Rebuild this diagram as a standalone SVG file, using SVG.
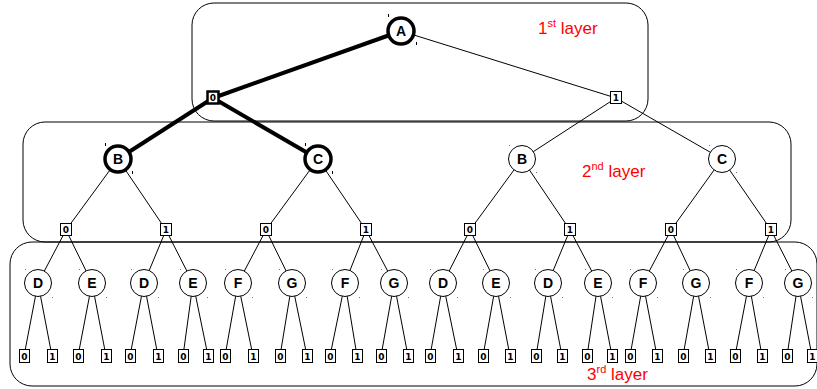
<svg xmlns="http://www.w3.org/2000/svg" width="817" height="389" viewBox="0 0 817 389">
  <style>
    .layer { fill: none; stroke: #000; stroke-width: 1; }
    .edge { stroke: #000; stroke-width: 1; fill: none; }
    .edge.bold { stroke-width: 4; }
    .node circle { fill: #fff; stroke: #000; stroke-width: 1; }
    .node.bold circle { stroke-width: 3.5; }
    .node text { font-family: "Liberation Sans", Arial, sans-serif; font-weight: bold; font-size: 14px; text-anchor: middle; }
    .bit rect { fill: #fff; stroke: #000; stroke-width: 1; }
    .bit.bold rect { stroke-width: 2.5; }
    .bit text { font-family: "DejaVu Sans", sans-serif; font-weight: bold; font-size: 9px; text-anchor: middle; }
    .lbl { font-family: "Liberation Sans", Arial, sans-serif; font-size: 17px; fill: #ff0000; }
    .sup { font-size: 11px; }
    .tick { fill: #777; }
    .tick.bold { fill: #000; }
  </style>

  <!-- layer frames -->
  <g id="layers">
    <rect class="layer" x="192" y="3" width="456" height="118" rx="22"/>
    <rect class="layer" x="23" y="122" width="768" height="120" rx="22"/>
    <rect class="layer" x="10" y="242" width="807" height="144" rx="22"/>
  </g>

  <!-- connectors -->
  <g id="edges">
    <!-- A to first bit boxes -->
    <line class="edge bold" x1="401" y1="31" x2="213" y2="98"/>
    <line class="edge" x1="401" y1="31" x2="616" y2="98"/>
    <!-- bit boxes to second layer -->
    <line class="edge bold" x1="213" y1="98" x2="118" y2="159"/>
    <line class="edge bold" x1="213" y1="98" x2="318" y2="159"/>
    <line class="edge" x1="616" y1="98" x2="522" y2="159"/>
    <line class="edge" x1="616" y1="98" x2="722" y2="159"/>
    <!-- second layer to bit boxes -->
    <line class="edge" x1="118" y1="159" x2="66" y2="230"/>
    <line class="edge" x1="118" y1="159" x2="166" y2="230"/>
    <line class="edge" x1="318" y1="159" x2="266" y2="230"/>
    <line class="edge" x1="318" y1="159" x2="366" y2="230"/>
    <line class="edge" x1="522" y1="159" x2="470" y2="230"/>
    <line class="edge" x1="522" y1="159" x2="570" y2="230"/>
    <line class="edge" x1="722" y1="159" x2="671" y2="230"/>
    <line class="edge" x1="722" y1="159" x2="771" y2="230"/>
    <!-- bit boxes to third layer -->
    <line class="edge" x1="66" y1="230" x2="38" y2="283"/>
    <line class="edge" x1="66" y1="230" x2="92" y2="283"/>
    <line class="edge" x1="166" y1="230" x2="144" y2="283"/>
    <line class="edge" x1="166" y1="230" x2="193" y2="283"/>
    <line class="edge" x1="266" y1="230" x2="238" y2="283"/>
    <line class="edge" x1="266" y1="230" x2="292" y2="283"/>
    <line class="edge" x1="366" y1="230" x2="345" y2="283"/>
    <line class="edge" x1="366" y1="230" x2="394" y2="283"/>
    <line class="edge" x1="470" y1="230" x2="443" y2="283"/>
    <line class="edge" x1="470" y1="230" x2="496" y2="283"/>
    <line class="edge" x1="570" y1="230" x2="548" y2="283"/>
    <line class="edge" x1="570" y1="230" x2="598" y2="283"/>
    <line class="edge" x1="671" y1="230" x2="643" y2="283"/>
    <line class="edge" x1="671" y1="230" x2="696" y2="283"/>
    <line class="edge" x1="771" y1="230" x2="749" y2="283"/>
    <line class="edge" x1="771" y1="230" x2="798" y2="283"/>
    <!-- third layer to leaf bits -->
    <path class="edge" d="M38 283 L24 356 M38 283 L52 356
      M92 283 L78 356 M92 283 L106 356
      M144 283 L130 356 M144 283 L158 356
      M193 283 L183 356 M193 283 L208 356
      M238 283 L225 356 M238 283 L253 356
      M292 283 L280 356 M292 283 L307 356
      M345 283 L330 356 M345 283 L357 356
      M394 283 L381 356 M394 283 L408 356
      M443 283 L430 356 M443 283 L458 356
      M496 283 L483 356 M496 283 L510 356
      M548 283 L536 356 M548 283 L562 356
      M598 283 L587 356 M598 283 L612 356
      M643 283 L630 356 M643 283 L657 356
      M696 283 L683 356 M696 283 L710 356
      M749 283 L735 356 M749 283 L762 356
      M798 283 L787 356 M798 283 L812 356"/>
  </g>

  <!-- first layer -->
  <g id="node-A" class="node bold"><circle cx="401" cy="31" r="13"/><text x="401" y="36">A</text></g>
  <g id="bit-A0" class="bit bold"><rect x="207.5" y="91.5" width="11" height="12"/><text x="213" y="101">0</text></g>
  <g id="bit-A1" class="bit"><rect x="610.5" y="91.5" width="11" height="12"/><text x="616" y="101">1</text></g>

  <!-- second layer -->
  <g id="node-B1" class="node bold"><circle cx="118" cy="159" r="13"/><text x="118" y="164">B</text></g>
  <g id="node-C1" class="node bold"><circle cx="318" cy="159" r="13"/><text x="318" y="164">C</text></g>
  <g id="node-B2" class="node"><circle cx="522" cy="159" r="13.5"/><text x="522" y="164">B</text></g>
  <g id="node-C2" class="node"><circle cx="722" cy="159" r="13.5"/><text x="722" y="164">C</text></g>

  <g id="bits-2" class="bit">
    <g id="bit-B1-0" class="bit"><rect x="60.5" y="223.5" width="11" height="12"/><text x="66" y="233">0</text></g>
    <g id="bit-B1-1" class="bit"><rect x="160.5" y="223.5" width="11" height="12"/><text x="166" y="233">1</text></g>
    <g id="bit-C1-0" class="bit"><rect x="260.5" y="223.5" width="11" height="12"/><text x="266" y="233">0</text></g>
    <g id="bit-C1-1" class="bit"><rect x="360.5" y="223.5" width="11" height="12"/><text x="366" y="233">1</text></g>
    <g id="bit-B2-0" class="bit"><rect x="464.5" y="223.5" width="11" height="12"/><text x="470" y="233">0</text></g>
    <g id="bit-B2-1" class="bit"><rect x="564.5" y="223.5" width="11" height="12"/><text x="570" y="233">1</text></g>
    <g id="bit-C2-0" class="bit"><rect x="665.5" y="223.5" width="11" height="12"/><text x="671" y="233">0</text></g>
    <g id="bit-C2-1" class="bit"><rect x="765.5" y="223.5" width="11" height="12"/><text x="771" y="233">1</text></g>
  </g>

  <!-- third layer -->
  <g id="node-D1" class="node"><circle cx="38" cy="283" r="13.5"/><text x="38" y="288">D</text></g>
  <g id="node-E1" class="node"><circle cx="92" cy="283" r="13.5"/><text x="92" y="288">E</text></g>
  <g id="node-D2" class="node"><circle cx="144" cy="283" r="13.5"/><text x="144" y="288">D</text></g>
  <g id="node-E2" class="node"><circle cx="193" cy="283" r="13.5"/><text x="193" y="288">E</text></g>
  <g id="node-F1" class="node"><circle cx="238" cy="283" r="13.5"/><text x="238" y="288">F</text></g>
  <g id="node-G1" class="node"><circle cx="292" cy="283" r="13.5"/><text x="292" y="288">G</text></g>
  <g id="node-F2" class="node"><circle cx="345" cy="283" r="13.5"/><text x="345" y="288">F</text></g>
  <g id="node-G2" class="node"><circle cx="394" cy="283" r="13.5"/><text x="394" y="288">G</text></g>
  <g id="node-D3" class="node"><circle cx="443" cy="283" r="13.5"/><text x="443" y="288">D</text></g>
  <g id="node-E3" class="node"><circle cx="496" cy="283" r="13.5"/><text x="496" y="288">E</text></g>
  <g id="node-D4" class="node"><circle cx="548" cy="283" r="13.5"/><text x="548" y="288">D</text></g>
  <g id="node-E4" class="node"><circle cx="598" cy="283" r="13.5"/><text x="598" y="288">E</text></g>
  <g id="node-F3" class="node"><circle cx="643" cy="283" r="13.5"/><text x="643" y="288">F</text></g>
  <g id="node-G3" class="node"><circle cx="696" cy="283" r="13.5"/><text x="696" y="288">G</text></g>
  <g id="node-F4" class="node"><circle cx="749" cy="283" r="13.5"/><text x="749" y="288">F</text></g>
  <g id="node-G4" class="node"><circle cx="798" cy="283" r="13.5"/><text x="798" y="288">G</text></g>

  <!-- leaf bits -->
  <g id="leaves" class="bit">
    <g class="bit"><rect x="19.5" y="349.5" width="10" height="13"/><text x="24.5" y="359.5">0</text></g>
    <g class="bit"><rect x="47.5" y="349.5" width="10" height="13"/><text x="52.5" y="359.5">1</text></g>
    <g class="bit"><rect x="73.5" y="349.5" width="10" height="13"/><text x="78.5" y="359.5">0</text></g>
    <g class="bit"><rect x="101.5" y="349.5" width="10" height="13"/><text x="106.5" y="359.5">1</text></g>
    <g class="bit"><rect x="125.5" y="349.5" width="10" height="13"/><text x="130.5" y="359.5">0</text></g>
    <g class="bit"><rect x="153.5" y="349.5" width="10" height="13"/><text x="158.5" y="359.5">1</text></g>
    <g class="bit"><rect x="178.5" y="349.5" width="10" height="13"/><text x="183.5" y="359.5">0</text></g>
    <g class="bit"><rect x="203.5" y="349.5" width="10" height="13"/><text x="208.5" y="359.5">1</text></g>
    <g class="bit"><rect x="220.5" y="349.5" width="10" height="13"/><text x="225.5" y="359.5">0</text></g>
    <g class="bit"><rect x="248.5" y="349.5" width="10" height="13"/><text x="253.5" y="359.5">1</text></g>
    <g class="bit"><rect x="275.5" y="349.5" width="10" height="13"/><text x="280.5" y="359.5">0</text></g>
    <g class="bit"><rect x="302.5" y="349.5" width="10" height="13"/><text x="307.5" y="359.5">1</text></g>
    <g class="bit"><rect x="325.5" y="349.5" width="10" height="13"/><text x="330.5" y="359.5">0</text></g>
    <g class="bit"><rect x="352.5" y="349.5" width="10" height="13"/><text x="357.5" y="359.5">1</text></g>
    <g class="bit"><rect x="376.5" y="349.5" width="10" height="13"/><text x="381.5" y="359.5">0</text></g>
    <g class="bit"><rect x="403.5" y="349.5" width="10" height="13"/><text x="408.5" y="359.5">1</text></g>
    <g class="bit"><rect x="425.5" y="349.5" width="10" height="13"/><text x="430.5" y="359.5">0</text></g>
    <g class="bit"><rect x="453.5" y="349.5" width="10" height="13"/><text x="458.5" y="359.5">1</text></g>
    <g class="bit"><rect x="478.5" y="349.5" width="10" height="13"/><text x="483.5" y="359.5">0</text></g>
    <g class="bit"><rect x="505.5" y="349.5" width="10" height="13"/><text x="510.5" y="359.5">1</text></g>
    <g class="bit"><rect x="531.5" y="349.5" width="10" height="13"/><text x="536.5" y="359.5">0</text></g>
    <g class="bit"><rect x="557.5" y="349.5" width="10" height="13"/><text x="562.5" y="359.5">1</text></g>
    <g class="bit"><rect x="582.5" y="349.5" width="10" height="13"/><text x="587.5" y="359.5">0</text></g>
    <g class="bit"><rect x="607.5" y="349.5" width="10" height="13"/><text x="612.5" y="359.5">1</text></g>
    <g class="bit"><rect x="625.5" y="349.5" width="10" height="13"/><text x="630.5" y="359.5">0</text></g>
    <g class="bit"><rect x="652.5" y="349.5" width="10" height="13"/><text x="657.5" y="359.5">1</text></g>
    <g class="bit"><rect x="678.5" y="349.5" width="10" height="13"/><text x="683.5" y="359.5">0</text></g>
    <g class="bit"><rect x="705.5" y="349.5" width="10" height="13"/><text x="710.5" y="359.5">1</text></g>
    <g class="bit"><rect x="730.5" y="349.5" width="10" height="13"/><text x="735.5" y="359.5">0</text></g>
    <g class="bit"><rect x="757.5" y="349.5" width="10" height="13"/><text x="762.5" y="359.5">1</text></g>
    <g class="bit"><rect x="782.5" y="349.5" width="10" height="13"/><text x="787.5" y="359.5">0</text></g>
    <g class="bit"><rect x="807.5" y="349.5" width="10" height="13"/><text x="812.5" y="359.5">1</text></g>
  </g>

  <!-- small corner marks around the round nodes -->
  <g id="marks">
    <rect class="tick bold" x="388" y="14" width="1" height="3"/>
    <rect class="tick bold" x="416" y="42" width="1" height="3"/>
    <rect class="tick bold" x="105" y="143" width="1" height="3"/>
    <rect class="tick bold" x="132" y="171" width="1" height="3"/>
    <rect class="tick bold" x="305" y="143" width="1" height="3"/>
    <rect class="tick bold" x="332" y="171" width="1" height="3"/>
    <path class="tick" d="M509 145h1v1h-1z M536 172h1v1h-1z M709 145h1v1h-1z M736 172h1v1h-1z
      M25 269h1v1h-1z M52 297h1v1h-1z M79 269h1v1h-1z M106 297h1v1h-1z
      M131 269h1v1h-1z M158 297h1v1h-1z M180 269h1v1h-1z M207 297h1v1h-1z
      M225 269h1v1h-1z M252 297h1v1h-1z M279 269h1v1h-1z M306 297h1v1h-1z
      M332 269h1v1h-1z M359 297h1v1h-1z M381 269h1v1h-1z M408 297h1v1h-1z
      M430 269h1v1h-1z M457 297h1v1h-1z M483 269h1v1h-1z M510 297h1v1h-1z
      M535 269h1v1h-1z M562 297h1v1h-1z M585 269h1v1h-1z M612 297h1v1h-1z
      M630 269h1v1h-1z M657 297h1v1h-1z M683 269h1v1h-1z M710 297h1v1h-1z
      M736 269h1v1h-1z M763 297h1v1h-1z M785 269h1v1h-1z M812 297h1v1h-1z"/>
  </g>

  <!-- layer captions -->
  <g id="captions">
    <text class="lbl" x="538" y="34">1<tspan class="sup" dy="-7">st</tspan><tspan dy="7"> layer</tspan></text>
    <text class="lbl" x="582" y="177">2<tspan class="sup" dy="-7">nd</tspan><tspan dy="7"> layer</tspan></text>
    <text class="lbl" x="587" y="380">3<tspan class="sup" dy="-7">rd</tspan><tspan dy="7"> layer</tspan></text>
  </g>
</svg>
